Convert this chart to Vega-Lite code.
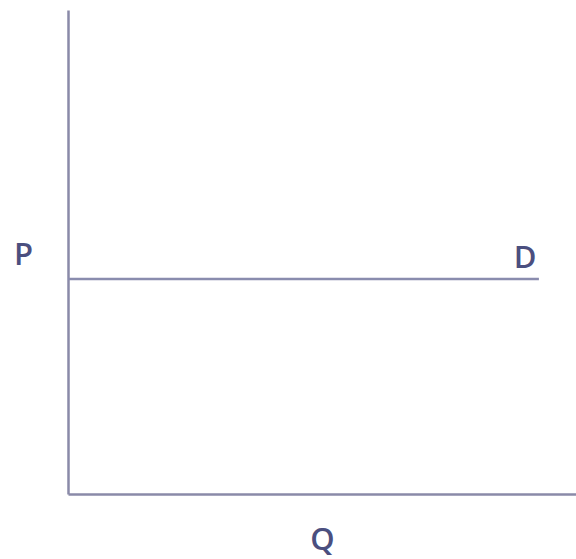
{
  "$schema": "https://vega.github.io/schema/vega-lite/v6.json",
  "width": 508,
  "height": 484,
  "autosize": "none",
  "padding": {"left": 68, "top": 10, "right": 0, "bottom": 65},
  "background": "white",
  "config": {"view": {"stroke": null}},
  "datasets": {
    "demand": [{"q0": 0, "q1": 92.7, "p": 44.4}],
    "labels": [{"q": 90, "p": 46.7, "label": "D"}]
  },
  "layer": [
    {
      "data": {"name": "demand"},
      "mark": {"type": "rule", "color": "#8a8cae", "strokeWidth": 2.5},
      "encoding": {
        "x": {"field": "q0", "type": "quantitative", "scale": {"domain": [0, 100], "nice": false},
          "axis": {"title": "Q", "ticks": false, "labels": false, "grid": false, "domainColor": "#8a8aa8", "domainWidth": 2.5,
            "titleFont": "Open Sans", "titleFontSize": 31, "titleFontWeight": 600, "titleColor": "#4b4f7f",
            "titleX": 254, "titleY": 55, "titleBaseline": "alphabetic", "titleAlign": "center"}},
        "x2": {"field": "q1"},
        "y": {"field": "p", "type": "quantitative", "scale": {"domain": [0, 100], "nice": false},
          "axis": {"title": "P", "ticks": false, "labels": false, "grid": false, "domainColor": "#8a8aa8", "domainWidth": 2.5,
            "titleFont": "Open Sans", "titleFontSize": 31, "titleFontWeight": 600, "titleColor": "#4b4f7f",
            "titleAngle": 0, "titleX": -45, "titleY": 254, "titleBaseline": "alphabetic", "titleAlign": "center"}}
      }
    },
    {
      "data": {"name": "labels"},
      "mark": {"type": "text", "font": "Open Sans", "fontSize": 31, "fontWeight": 600, "color": "#4b4f7f", "baseline": "alphabetic", "align": "center"},
      "encoding": {
        "x": {"field": "q", "type": "quantitative"},
        "y": {"field": "p", "type": "quantitative"},
        "text": {"field": "label"}
      }
    }
  ]
}
